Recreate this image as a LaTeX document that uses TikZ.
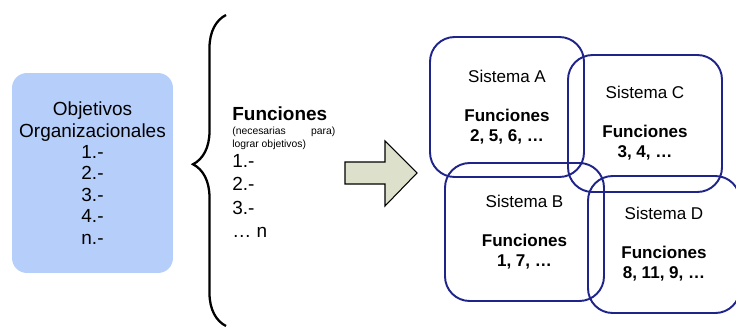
\documentclass[tikz,border=0pt]{standalone}
\usepackage{fontspec}
\setmainfont{Liberation Sans}
\usetikzlibrary{positioning}
\usetikzlibrary{decorations.pathreplacing}

\definecolor{objblue}{RGB}{182,207,250}
\definecolor{sysblue}{RGB}{30,36,138}
\definecolor{arrowfill}{RGB}{221,225,203}

\begin{document}
\begin{tikzpicture}[x=0.02cm,y=-0.02cm,
  bigtext/.style={font=\fontsize{10.8}{12.2}\selectfont,inner sep=0pt},
  sysbox/.style={draw=sysblue,line width=1.1pt,rounded corners=14pt,align=center,
    font=\fontsize{9.7}{11.4}\selectfont}]
  \useasboundingbox (0,0) rectangle (736,328);

  % objetivos
  \node[fill=objblue,rounded corners=8.5pt,minimum width=3.22cm,minimum height=4cm,
    bigtext,align=center] (obj) at (92.5,173)
    {Objetivos\\Organizacionales\\1.-\\2.-\\3.-\\4.-\\n.-};

  % llave
  \coordinate (bracebot) at (226,326);
  \coordinate (bracetop) at (226,15);
  \draw[decorate,decoration={brace,amplitude=18.8pt,aspect=0.52},line width=1.3pt]
    (bracebot) -- (bracetop);

  % funciones
  \node[bigtext,anchor=base west,font=\fontsize{10.8}{12.2}\selectfont\bfseries] (functitle) at (232,120) {Funciones};
  \node[inner sep=0pt,anchor=north west,align=left,font=\fontsize{5.9}{7.4}\selectfont] (funcnote) at (232,126.5)
    {\makebox[2.06cm][s]{(necesarias para)}\\lograr objetivos)};
  \node[bigtext,anchor=north west,align=left,font=\fontsize{10.8}{13.3}\selectfont] (funclist) at (232,154)
    {1.-\\2.-\\3.-\\\ldots{} n};

  % flecha
  \draw[fill=arrowfill,line width=0.6pt] (345,162) -- (385,162) -- (385,141) -- (417,173)
    -- (385,206) -- (385,184) -- (345,184) -- cycle;

  % sistemas
  \node[sysbox,minimum width=3.08cm,minimum height=2.8cm] (sysA) at (507,107)
    {Sistema A\\[10.8pt]\textbf{Funciones}\\\textbf{2, 5, 6, …}};
  \node[sysbox,minimum width=3.08cm,minimum height=2.74cm] (sysC) at (645,123.5)
    {Sistema C\\[10.8pt]\textbf{Funciones}\\\textbf{3, 4, …}};
  \node[sysbox,minimum width=3.18cm,minimum height=2.76cm] (sysB) at (524.5,232)
    {Sistema B\\[10.8pt]\textbf{Funciones}\\\textbf{1, 7, …}};
  \node[sysbox,minimum width=3.04cm,minimum height=2.74cm] (sysD) at (664,244.5)
    {Sistema D\\[10.8pt]\textbf{Funciones}\\\textbf{8, 11, 9, …}};
\end{tikzpicture}
\end{document}
